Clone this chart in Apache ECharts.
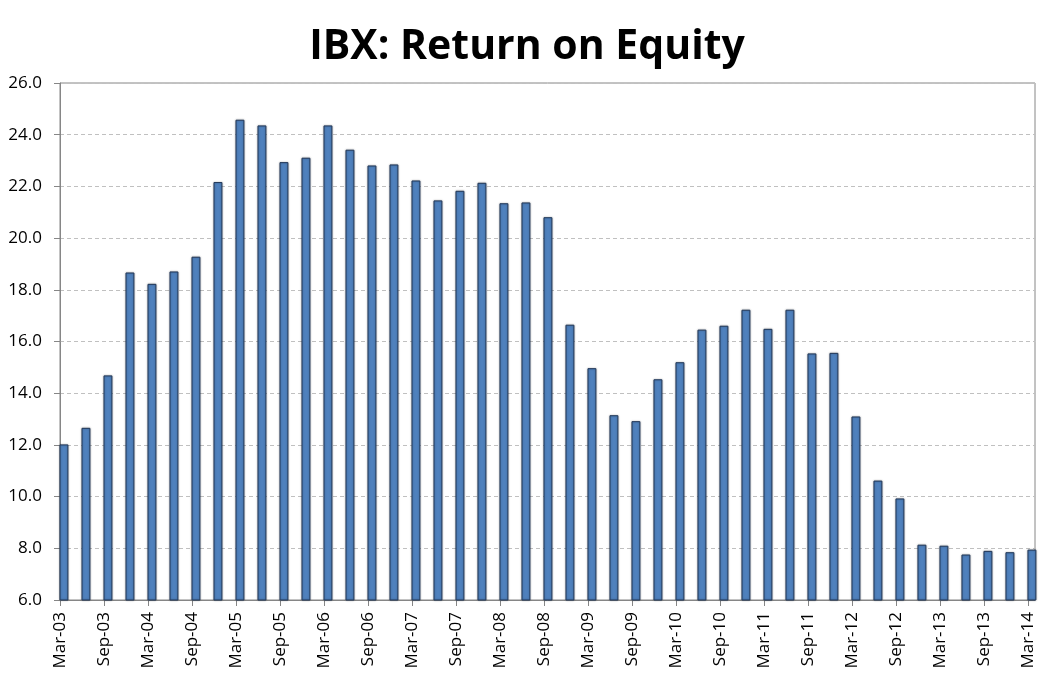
<!DOCTYPE html>
<html>
<head>
<meta charset="utf-8">
<script src="https://cdn.jsdelivr.net/npm/echarts@6/dist/echarts.min.js"></script>
<style>
html,body{margin:0;padding:0;background:#fff;}
#chart{width:1054px;height:678px;}
</style>
</head>
<body>
<div id="chart"></div>
<script>
var titleText = 'IBX: Return on Equity';
var quarters = ['Mar-03','Jun-03','Sep-03','Dec-03','Mar-04','Jun-04','Sep-04','Dec-04',
  'Mar-05','Jun-05','Sep-05','Dec-05','Mar-06','Jun-06','Sep-06','Dec-06',
  'Mar-07','Jun-07','Sep-07','Dec-07','Mar-08','Jun-08','Sep-08','Dec-08',
  'Mar-09','Jun-09','Sep-09','Dec-09','Mar-10','Jun-10','Sep-10','Dec-10',
  'Mar-11','Jun-11','Sep-11','Dec-11','Mar-12','Jun-12','Sep-12','Dec-12',
  'Mar-13','Jun-13','Sep-13','Dec-13','Mar-14'];
var roe = [12.0,12.64,14.67,18.65,18.21,18.69,19.26,22.15,
  24.56,24.34,22.92,23.09,24.34,23.40,22.79,22.83,
  22.21,21.44,21.81,22.12,21.33,21.36,20.79,16.63,
  14.95,13.13,12.90,14.52,15.18,16.44,16.59,17.21,
  16.47,17.21,15.52,15.54,13.08,10.60,9.91,8.12,
  8.08,7.74,7.88,7.83,7.93];
var yTicks = {min: 6, max: 26, step: 2};

var chart = echarts.init(document.getElementById('chart'), null, {renderer: 'canvas'});
var labelFont = '"Open Sans", "Noto Sans", sans-serif';

var option = {
  animation: false,
  backgroundColor: '#ffffff',
  title: {
    text: titleText,
    left: 'center',
    top: 22,
    textStyle: {
      fontFamily: '"Open Sans", "Noto Sans", sans-serif',
      fontWeight: 'bold',
      fontSize: 41,
      color: '#000'
    }
  },
  grid: {
    left: 60, right: 19, top: 83, bottom: 78,
    show: true,
    borderColor: '#868686',
    borderWidth: 1
  },
  xAxis: {
    type: 'value',
    min: 0,
    max: quarters.length - 1 + 0.32,
    interval: 2,
    splitLine: {show: false},
    axisLine: {show: true, lineStyle: {color: '#868686', width: 1}},
    axisTick: {show: true, length: 6, lineStyle: {color: '#868686'}},
    axisLabel: {
      rotate: 90,
      margin: 12,
      fontFamily: labelFont,
      fontSize: 17,
      color: '#000',
      showMaxLabel: false,
      formatter: function (v) {
        return (Number.isInteger(v) && quarters[v]) ? quarters[v] : '';
      }
    }
  },
  yAxis: {
    type: 'value',
    min: yTicks.min,
    max: yTicks.max,
    interval: yTicks.step,
    axisLine: {show: true, lineStyle: {color: '#868686', width: 1}},
    axisTick: {show: true, length: 6, lineStyle: {color: '#868686'}},
    splitLine: {show: true, lineStyle: {color: '#c0c0c0', type: [4, 3], width: 1}},
    axisLabel: {
      margin: 18,
      fontFamily: labelFont,
      fontSize: 17,
      color: '#000',
      formatter: function (v) { return v.toFixed(1); }
    }
  },
  series: [{
    type: 'custom',
    data: roe.map(function (v, i) { return [i, v]; }),
    encode: {x: 0, y: 1},
    renderItem: function (params, api) {
      var top = api.coord([api.value(0), api.value(1)]);
      var base = api.coord([api.value(0), yTicks.min]);
      var w = api.size([1, 0])[0] * 0.36;
      return {
        type: 'rect',
        shape: {x: top[0], y: top[1], width: w, height: base[1] - top[1]},
        style: {
          fill: '#4f81bd',
          stroke: '#233a5c',
          lineWidth: 1,
          shadowColor: 'rgba(0,0,0,0.3)',
          shadowBlur: 2,
          shadowOffsetX: 0,
          shadowOffsetY: 0
        }
      };
    }
  }]
};
chart.setOption(option);
</script>
</body>
</html>
